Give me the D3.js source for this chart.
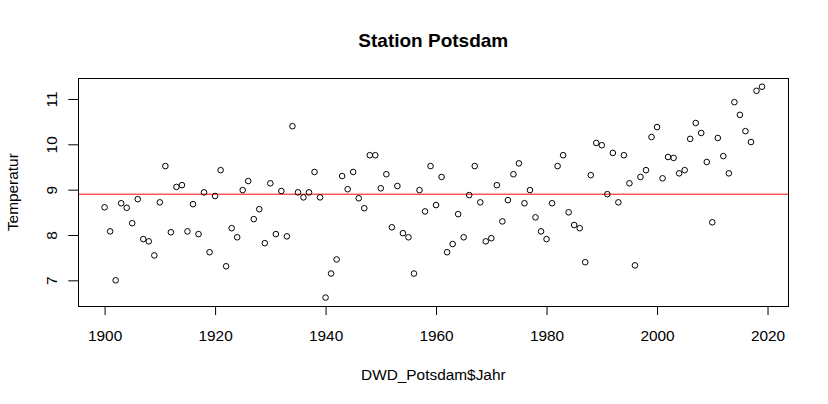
<!DOCTYPE html>
<html>
<head>
<meta charset="utf-8">
<script src="https://cdn.jsdelivr.net/npm/d3@7"></script>
<style>
  html, body { margin: 0; padding: 0; background: #ffffff; }
  svg { display: block; }
  text { font-family: "Liberation Sans", Arial, sans-serif; fill: #000; }
</style>
</head>
<body>
<script>
// ---- data ----
const years = [1900,1901,1902,1903,1904,1905,1906,1907,1908,1909,
  1910,1911,1912,1913,1914,1915,1916,1917,1918,1919,
  1920,1921,1922,1923,1924,1925,1926,1927,1928,1929,
  1930,1931,1932,1933,1934,1935,1936,1937,1938,1939,
  1940,1941,1942,1943,1944,1945,1946,1947,1948,1949,
  1950,1951,1952,1953,1954,1955,1956,1957,1958,1959,
  1960,1961,1962,1963,1964,1965,1966,1967,1968,1969,
  1970,1971,1972,1973,1974,1975,1976,1977,1978,1979,
  1980,1981,1982,1983,1984,1985,1986,1987,1988,1989,
  1990,1991,1992,1993,1994,1995,1996,1997,1998,1999,
  2000,2001,2002,2003,2004,2005,2006,2007,2008,2009,
  2010,2011,2012,2013,2014,2015,2016,2017,2018,2019];
const temperatures = [8.61,8.08,7.00,8.70,8.60,8.26,8.79,7.91,7.86,7.55,
  8.72,9.52,8.06,9.06,9.10,8.08,8.68,8.02,8.94,7.62,
  8.86,9.43,7.31,8.15,7.95,8.99,9.19,8.35,8.57,7.82,
  9.14,8.02,8.97,7.97,10.40,8.94,8.83,8.94,9.39,8.83,
  6.62,7.15,7.46,9.30,9.01,9.39,8.81,8.59,9.76,9.76,
  9.03,9.34,8.17,9.08,8.04,7.95,7.15,8.99,8.52,9.52,
  8.66,9.28,7.62,7.80,8.46,7.95,8.88,9.52,8.72,7.86,
  7.93,9.10,8.30,8.77,9.34,9.58,8.70,8.99,8.39,8.08,
  7.91,8.70,9.52,9.76,8.50,8.22,8.15,7.40,9.32,10.03,
  9.98,8.90,9.81,8.72,9.76,9.14,7.33,9.28,9.43,10.16,
  10.38,9.25,9.72,9.70,9.36,9.43,10.12,10.47,10.25,9.61,
  8.28,10.14,9.74,9.36,10.93,10.65,10.29,10.05,11.18,11.27];
const meanLine = [8.90];
const xTicks = [1900,1920,1940,1960,1980,2000,2020];
const yTicks = [7,8,9,10,11];
const title = "Station Potsdam";
const xLabel = "DWD_Potsdam$Jahr";
const yLabel = "Temperatur";

// ---- layout ----
const W = 828, H = 404;
const L = 78.3, R = 788.3, T = 78.3, B = 306;
const FS = 15.4;

const svg = d3.select("body").append("svg").attr("width", W).attr("height", H);

// R-style 4% axis extension
function rRange(arr) {
  const lo = d3.min(arr), hi = d3.max(arr), p = 0.04 * (hi - lo);
  return [lo - p, hi + p];
}
const x = d3.scaleLinear().domain(rRange(years)).range([L, R]);
const y = d3.scaleLinear().domain(rRange(temperatures)).range([B, T]);

// axes
const xAxis = svg.append("g").attr("transform", `translate(0,${B})`)
  .call(d3.axisBottom(x).tickValues(xTicks).tickFormat(d3.format("d")).tickSize(9).tickSizeOuter(0));
xAxis.select(".domain").attr("d", `M${x(xTicks[0])},0.5H${x(xTicks[xTicks.length-1])}`);
xAxis.selectAll(".tick line").attr("stroke", "#000").attr("stroke-width", 1);
xAxis.selectAll(".tick text").attr("y", 35).attr("dy", 0)
  .style("font-size", FS + "px").style("font-family", '"Liberation Sans", Arial, sans-serif').attr("fill", "#000");

const yAxis = svg.append("g").attr("transform", `translate(${L},0)`)
  .call(d3.axisLeft(y).tickValues(yTicks).tickFormat(d3.format("d")).tickSize(10).tickSizeOuter(0));
yAxis.select(".domain").remove();
yAxis.selectAll(".tick line").attr("stroke", "#000").attr("stroke-width", 1);
yAxis.selectAll(".tick text")
  .attr("x", null).attr("dy", null)
  .attr("transform", "translate(-21,0) rotate(-90)")
  .attr("text-anchor", "middle")
  .style("font-size", FS + "px").style("font-family", '"Liberation Sans", Arial, sans-serif').attr("fill", "#000");

// reference line (mean)
svg.append("g").selectAll("line").data(meanLine).join("line")
  .attr("x1", L).attr("x2", R)
  .attr("y1", d => y(d)).attr("y2", d => y(d))
  .attr("stroke", "#ff0000").attr("stroke-width", 1);

// points
svg.append("g").selectAll("circle").data(years).join("circle")
  .attr("cx", (d) => x(d))
  .attr("cy", (d, i) => y(temperatures[i]))
  .attr("r", 2.8)
  .attr("fill", "none").attr("stroke", "#000").attr("stroke-width", 1);

// box
svg.append("rect").attr("x", Math.round(L) + 0.5).attr("y", Math.round(T) + 0.5)
  .attr("width", Math.round(R) - Math.round(L)).attr("height", Math.round(B) - Math.round(T))
  .attr("fill", "none").attr("stroke", "#000").attr("stroke-width", 1);

// labels
svg.append("text").attr("x", (L + R) / 2).attr("y", 46.7).attr("text-anchor", "middle")
  .style("font-size", "19px").style("font-weight", "bold").text(title);
svg.append("text").attr("x", (L + R) / 2).attr("y", 380).attr("text-anchor", "middle")
  .style("font-size", FS + "px").text(xLabel);
svg.append("text").attr("transform", `translate(17.5,${(T + B) / 2}) rotate(-90)`).attr("text-anchor", "middle")
  .style("font-size", FS + "px").text(yLabel);
</script>
</body>
</html>
